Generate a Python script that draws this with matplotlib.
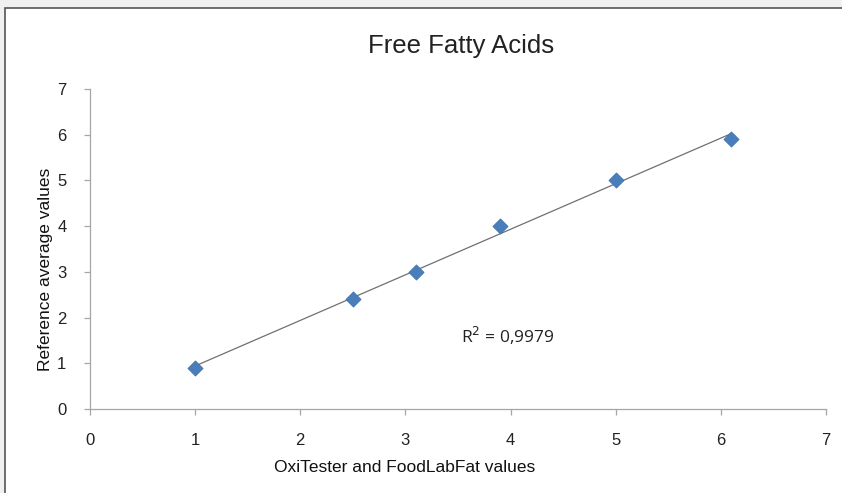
import numpy as np
import matplotlib.pyplot as plt
from matplotlib.patches import Rectangle

# Data
x_vals = [1.0, 2.5, 3.1, 3.9, 5.0, 6.1]
y_vals = [0.9, 2.4, 3.0, 4.0, 5.0, 5.9]
r2_label = "R$^2$ = 0,9979"

plt.rcParams["font.family"] = ["Liberation Sans", "DejaVu Sans"]

fig = plt.figure(figsize=(8.42, 4.93), dpi=100)

# window-like gray background and chart frame
fig.patches.append(Rectangle((0, 0), 1, 1, transform=fig.transFigure,
                             facecolor="#f0f0f0", edgecolor="none", zorder=-2))
fig.patches.append(Rectangle((5 / 842, -0.01), 1.0, 1 - 8 / 493 + 0.01,
                             transform=fig.transFigure, facecolor="white",
                             edgecolor="#555555", linewidth=1.2, zorder=-1))

ax = fig.add_axes([90 / 842, 1 - 409 / 493, 736 / 842, 320 / 493])
ax.set_facecolor("none")

# linear trendline
slope, intercept = np.polyfit(x_vals, y_vals, 1)
xs = np.array([min(x_vals), max(x_vals)])
ax.plot(xs, slope * xs + intercept, color="#707070", linewidth=0.9, zorder=2)

ax.scatter(x_vals, y_vals, marker="D", s=60, color="#4a7ebb",
           edgecolors="#3d6ea8", linewidths=0.5, zorder=3)

ax.set_xlim(0, 7)
ax.set_ylim(0, 7)
ax.set_xticks(range(8))
ax.set_yticks(range(8))

for side in ["top", "right"]:
    ax.spines[side].set_visible(False)
for side in ["left", "bottom"]:
    ax.spines[side].set_color("#a6a6a6")
    ax.spines[side].set_linewidth(0.9)
ax.tick_params(axis="both", colors="#a6a6a6", length=4, width=0.9,
               labelcolor="#222222", labelsize=12)
ax.tick_params(axis="x", pad=13)
ax.tick_params(axis="y", pad=13)

fig.text(461 / 842, 1 - 46 / 493, "Free Fatty Acids", fontsize=18.5,
         color="#222222", ha="center", va="center")
fig.text(405 / 842, 1 - 467 / 493, "OxiTester and FoodLabFat values",
         fontsize=12.5, color="#111111", ha="center", va="center")
fig.text(46 / 842, 1 - 269 / 493, "Reference average values",
         fontsize=12.5, color="#111111", ha="center", va="center",
         rotation=90)

ax.text(3.53, 1.45, r2_label, fontsize=12.5, color="#222222",
        family=["Open Sans", "DejaVu Sans"])

fig.savefig("out.png", dpi=100)
